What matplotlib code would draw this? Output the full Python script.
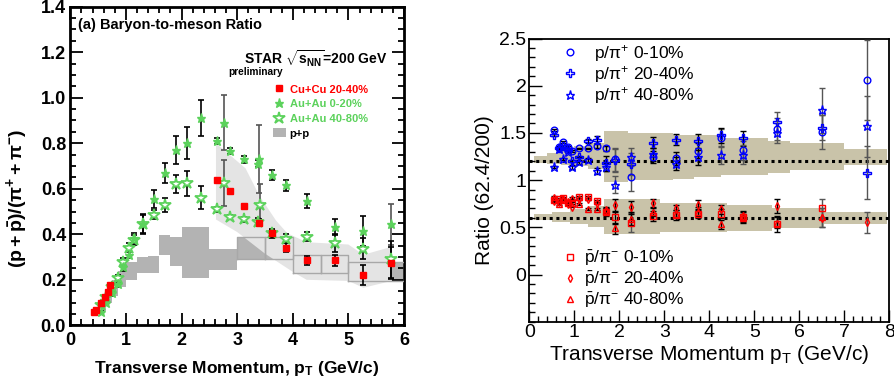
import numpy as np
import matplotlib
matplotlib.use("Agg")
import matplotlib.pyplot as plt
from matplotlib.lines import Line2D
from matplotlib.patches import Patch
from matplotlib.ticker import MultipleLocator

plt.rcParams['font.family'] = ['Liberation Sans', 'DejaVu Sans']
plt.rcParams['mathtext.fontset'] = 'custom'
plt.rcParams['mathtext.rm'] = 'Liberation Sans'
plt.rcParams['mathtext.it'] = 'Liberation Sans:italic'
plt.rcParams['mathtext.bf'] = 'Liberation Sans:bold'

# ---------------- left panel data ----------------
auau_x = [0.55, 0.65, 0.75, 0.85, 0.95, 1.05, 1.15, 1.3, 1.5, 1.7, 1.9, 2.1, 2.35,
          2.63, 2.76, 2.88, 3.13, 3.39, 3.37, 3.63, 3.88, 4.26, 4.76, 5.26, 5.76]
auau_c_y = [0.06, 0.10, 0.14, 0.18, 0.255, 0.31, 0.385, 0.445, 0.555, 0.67, 0.77, 0.80, 0.91,
            0.81, 0.89, 0.765, 0.73, 0.73, 0.71, 0.66, 0.615, 0.545, 0.43, 0.415, 0.445]
auau_c_e = [0.005, 0.008, 0.01, 0.012, 0.015, 0.015, 0.02, 0.045, 0.04, 0.045, 0.06, 0.07, 0.08,
            0.012, 0.12, 0.012, 0.015, 0.15, 0.015, 0.022, 0.025, 0.03, 0.035, 0.065, 0.09]
auau_p_x = [0.55, 0.65, 0.75, 0.85, 0.95, 1.05, 1.15, 1.3, 1.5, 1.7, 1.9, 2.1, 2.35,
            2.63, 2.76, 2.88, 3.13, 3.42, 3.38, 3.63, 3.88, 4.26, 4.76, 5.26, 5.76]
auau_p_y = [0.09, 0.125, 0.17, 0.21, 0.28, 0.34, 0.375, 0.445, 0.485, 0.53, 0.62, 0.625, 0.56,
            0.51, 0.625, 0.475, 0.465, 0.53, 0.455, 0.405, 0.38, 0.39, 0.363, 0.337, 0.29]
auau_p_e = [0.008, 0.01, 0.01, 0.012, 0.015, 0.02, 0.02, 0.04, 0.02, 0.03, 0.04, 0.055, 0.05,
            0.01, 0.1, 0.01, 0.01, 0.09, 0.015, 0.015, 0.02, 0.02, 0.04, 0.045, 0.08]
cucu_x = [0.42, 0.47, 0.55, 0.62, 0.67, 0.72, 2.63, 2.88, 3.13, 3.39, 3.63, 3.88, 4.26, 4.76, 5.26, 5.76]
cucu_y = [0.058, 0.068, 0.10, 0.125, 0.145, 0.175, 0.64, 0.59, 0.525, 0.45, 0.405, 0.34,
          0.285, 0.285, 0.22, 0.275]
cucu_e = [0, 0, 0, 0, 0, 0, 0, 0, 0, 0.015, 0.02, 0.02, 0.02, 0.025, 0.045, 0.07]

pp_x0 = [0.55, 0.65, 0.75, 0.85, 1.0, 1.2, 1.4, 1.6, 1.8, 2.0, 2.5, 3.0, 3.5, 4.0, 4.5, 5.0]
pp_x1 = [0.65, 0.75, 0.85, 1.0, 1.2, 1.4, 1.6, 1.8, 2.0, 2.5, 3.0, 3.5, 4.0, 4.5, 5.0, 6.0]
pp_lo = [0.065, 0.10, 0.13, 0.17, 0.20, 0.23, 0.23, 0.31, 0.26, 0.21, 0.245, 0.29, 0.29, 0.23, 0.23, 0.195]
pp_hi = [0.11, 0.16, 0.20, 0.24, 0.28, 0.30, 0.305, 0.395, 0.39, 0.43, 0.335, 0.39, 0.39, 0.31, 0.31, 0.28]

band_up_x = [2.62, 3.15, 3.4, 3.7, 3.9, 4.25, 5.0, 5.27, 5.78]
band_up_y = [0.80, 0.69, 0.57, 0.46, 0.405, 0.365, 0.355, 0.31, 0.345]
band_dn_x = [2.62, 3.0, 3.5, 4.0, 4.25, 5.0, 5.27, 5.78]
band_dn_y = [0.465, 0.41, 0.315, 0.235, 0.20, 0.195, 0.165, 0.195]

# ---------------- right panel data ----------------
pt_r = [0.55, 0.65, 0.75, 0.85, 0.95, 1.1, 1.3, 1.5, 1.7, 1.9, 2.25, 2.75, 3.25, 3.75, 4.25, 4.75, 5.5, 6.5, 7.5]
p_010 = [1.53, 1.35, 1.40, 1.35, 1.31, 1.335, 1.335, 1.36, 1.335, 1.22, 1.03, 1.245, 1.23, 1.31, 1.45, 1.315, 1.54, 1.51, 2.06]
p_010_e = [0.01, 0.01, 0.01, 0.01, 0.01, 0.01, 0.01, 0.02, 0.03, 0.12, 0.15, 0.06, 0.07, 0.08, 0.09, 0.1, 0.12, 0.18, 0.42]
p_2040 = [1.48, 1.34, 1.36, 1.33, 1.20, 1.25, 1.415, 1.43, 1.18, 1.21, 1.17, 1.395, 1.43, 1.415, 1.475, 1.445, 1.62, 1.555, 1.08]
p_2040_e = [0.01, 0.01, 0.01, 0.01, 0.01, 0.01, 0.02, 0.04, 0.08, 0.12, 0.12, 0.06, 0.06, 0.07, 0.08, 0.08, 0.1, 0.13, 0.28]
p_4080 = [1.135, 1.33, 1.22, 1.30, 1.14, 1.195, 1.21, 1.10, 1.14, 0.95, 1.245, 1.275, 1.175, 1.24, 1.265, 1.27, 1.50, 1.74, 1.57]
p_4080_e = [0.01, 0.01, 0.01, 0.01, 0.02, 0.02, 0.02, 0.03, 0.04, 0.09, 0.1, 0.07, 0.07, 0.08, 0.09, 0.1, 0.11, 0.24, 0.32]

pbar_010 = [0.79, 0.80, 0.815, 0.76, 0.76, 0.82, 0.82, 0.78, 0.665, 0.605, 0.55, 0.62, 0.63, 0.645, 0.645, 0.61, 0.535, 0.70]
pbar_010_e = [0.01, 0.01, 0.01, 0.01, 0.01, 0.01, 0.01, 0.01, 0.04, 0.07, 0.1, 0.05, 0.05, 0.05, 0.05, 0.05, 0.08, 0.1]
pbar_2040 = [0.78, 0.77, 0.80, 0.75, 0.72, 0.80, 0.80, 0.76, 0.68, 0.735, 0.71, 0.755, 0.70, 0.735, 0.69, 0.625, 0.725, 0.60, 0.555]
pbar_2040_e = [0.01, 0.01, 0.01, 0.01, 0.01, 0.01, 0.01, 0.01, 0.03, 0.07, 0.07, 0.04, 0.04, 0.05, 0.05, 0.05, 0.07, 0.1, 0.11]
pbar_4080 = [0.82, 0.745, 0.79, 0.78, 0.815, 0.745, 0.69, 0.69, 0.675, 0.49, 0.59, 0.665, 0.645, 0.665, 0.53, 0.595, 0.55, 0.605]
pbar_4080_e = [0.01, 0.01, 0.01, 0.01, 0.01, 0.01, 0.01, 0.01, 0.03, 0.06, 0.07, 0.04, 0.04, 0.05, 0.05, 0.05, 0.06, 0.1]

ub_edges = [0.1, 0.4, 0.7, 1.0, 1.3, 1.65, 2.2, 3.2, 3.65, 4.25, 5.3, 5.8, 6.3, 7.0, 7.95]
ub_lo = [1.18, 1.17, 1.16, 1.15, 1.12, 0.98, 1.0, 1.01, 1.03, 1.05, 1.075, 1.105, 1.105, 1.16]
ub_hi = [1.26, 1.29, 1.33, 1.36, 1.39, 1.52, 1.50, 1.48, 1.48, 1.45, 1.41, 1.39, 1.39, 1.33]
lb_edges = [0.1, 0.5, 0.9, 1.3, 1.65, 2.9, 4.4, 5.4, 6.55, 7.95]
lb_lo = [0.575, 0.56, 0.54, 0.50, 0.43, 0.45, 0.46, 0.49, 0.53]
lb_hi = [0.645, 0.665, 0.69, 0.73, 0.80, 0.755, 0.735, 0.70, 0.66]
ref_levels = [1.2, 0.6]

RED = '#ff0000'
GREEN = '#5cd25c'
BLUE = '#0000ff'
PPGRAY = '#b3b3b3'
BANDGRAY = '#e4e4e4'
TAN = '#c9c3a9'

fig = plt.figure(figsize=(8.94, 3.87), dpi=100)
axL = fig.add_axes([0.0786, 0.1594, 0.3733, 0.8233])
axR = fig.add_axes([0.5921, 0.1687, 0.4027, 0.7318])

# ---------------- left panel ----------------
ax = axL
for x0, x1, lo, hi in zip(pp_x0, pp_x1, pp_lo, pp_hi):
    ax.fill_between([x0, x1], [lo, lo], [hi, hi], color=PPGRAY, lw=0, zorder=1)
ax.fill(band_up_x + band_dn_x[::-1], band_up_y + band_dn_y[::-1], color=BANDGRAY, lw=0, zorder=2)
for x0, x1, lo, hi in zip(pp_x0, pp_x1, pp_lo, pp_hi):
    if x0 >= 3.0:
        ax.plot([x0, x1, x1, x0, x0], [lo, lo, hi, hi, lo], color='#a8a8a8', lw=1.0, zorder=3)


def ebars(ax, x, y, e, lw=1.2, cap=2.5):
    x = np.asarray(x); y = np.asarray(y); e = np.asarray(e)
    big = e >= 0.09
    ax.errorbar(x[~big], y[~big], yerr=e[~big], fmt='none', ecolor='black',
                elinewidth=lw, capsize=cap, capthick=lw, zorder=4)
    if big.any():
        ax.errorbar(x[big], y[big], yerr=e[big], fmt='none', ecolor='#555555',
                    elinewidth=lw, capsize=cap, capthick=lw, zorder=4)


ebars(ax, auau_x, auau_c_y, auau_c_e)
ebars(ax, auau_p_x, auau_p_y, auau_p_e)
ebars(ax, cucu_x, cucu_y, cucu_e)
ax.plot(auau_p_x, auau_p_y, ls='none', marker='*', ms=9, mfc='white', mec=GREEN, mew=1.3, zorder=5)
ax.plot(auau_x, auau_c_y, ls='none', marker='*', ms=6.5, mfc=GREEN, mec=GREEN, zorder=6)
ax.plot(cucu_x, cucu_y, ls='none', marker='s', ms=5, mfc=RED, mec=RED, zorder=7)

ax.set_xlim(0, 6)
ax.set_ylim(0, 1.4)
ax.xaxis.set_major_locator(MultipleLocator(1))
ax.xaxis.set_minor_locator(MultipleLocator(0.2))
ax.yaxis.set_major_locator(MultipleLocator(0.2))
ax.yaxis.set_minor_locator(MultipleLocator(0.05))
ax.yaxis.set_major_formatter(matplotlib.ticker.FormatStrFormatter('%.1f'))
ax.tick_params(which='both', direction='in', top=True, right=True, width=1.3)
ax.tick_params(which='major', length=9)
ax.tick_params(which='minor', length=4.5)
ax.tick_params(axis='x', pad=5, labelsize=13)
ax.tick_params(axis='y', pad=3, labelsize=13)
for lab in ax.get_xticklabels() + ax.get_yticklabels():
    lab.set_fontweight('bold')
for s in ax.spines.values():
    s.set_linewidth(2)

ax.text(0.024, 0.9426, '(a) Baryon-to-meson Ratio', transform=ax.transAxes,
        fontsize=10.5, fontweight='bold', ha='left', va='center')
ax.text(0.952, 0.838, r'STAR $\sqrt{\mathbf{s}_{\mathbf{NN}}}$=200 GeV', transform=ax.transAxes,
        fontsize=10, fontweight='bold', ha='right', va='center')
ax.text(0.637, 0.794, 'preliminary', transform=ax.transAxes,
        fontsize=7.3, fontweight='bold', ha='right', va='center')

hL = [Line2D([], [], ls='none', marker='s', ms=5, mfc=RED, mec=RED),
      Line2D([], [], ls='none', marker='*', ms=6.5, mfc=GREEN, mec=GREEN),
      Line2D([], [], ls='none', marker='*', ms=9, mfc='white', mec=GREEN, mew=1.3),
      Patch(facecolor=PPGRAY, edgecolor='none')]
legL = ax.legend(hL, ['Cu+Cu 20-40%', 'Au+Au 0-20%', 'Au+Au 40-80%', 'p+p'],
                 loc='upper left', bbox_to_anchor=(0.606, 0.757), frameon=False,
                 prop={'size': 8, 'weight': 'bold'}, handlelength=1.2, handleheight=0.9,
                 handletextpad=0.35, labelspacing=0.38, borderpad=0, borderaxespad=0)
for t, c in zip(legL.get_texts(), [RED, GREEN, GREEN, 'black']):
    t.set_color(c)

fig.text(236.7 / 894, 1 - 368 / 387, r'Transverse Momentum, p$_{\mathbf{T}}$ (GeV/c)',
         fontsize=12.5, fontweight='bold', ha='center', va='center')
fig.text(17 / 894, 1 - 198 / 387, r'$\mathbf{(p+\bar{p})/(\pi^{+}+\pi^{-})}$',
         fontsize=14, rotation=90, ha='center', va='center')

# ---------------- right panel ----------------
ax = axR
ax.stairs(ub_hi, ub_edges, baseline=ub_lo, fill=True, color=TAN, lw=0, zorder=1)
ax.stairs(lb_hi, lb_edges, baseline=lb_lo, fill=True, color=TAN, lw=0, zorder=1)
for lvl in ref_levels:
    ax.axhline(lvl, color='black', ls=(0, (1, 1.2)), lw=2.2, zorder=2)

ebars(ax, pt_r, p_010, p_010_e, lw=1.0, cap=2)
ebars(ax, pt_r, p_2040, p_2040_e, lw=1.0, cap=2)
ebars(ax, pt_r, p_4080, p_4080_e, lw=1.0, cap=2)
ebars(ax, pt_r[:len(pbar_010)], pbar_010, pbar_010_e, lw=1.0, cap=2)
ebars(ax, pt_r, pbar_2040, pbar_2040_e, lw=1.0, cap=2)
ebars(ax, pt_r[:len(pbar_4080)], pbar_4080, pbar_4080_e, lw=1.0, cap=2)

MS = dict(o=4.8, P=5.5, star=6.5, s=4.6, d=4.2, tri=5.0)
mk = dict(ls='none', mfc='none', mew=1.0, zorder=5)
ax.plot(pt_r, p_010, marker='o', ms=MS['o'], mec=BLUE, **mk)
ax.plot(pt_r, p_2040, marker='P', ms=MS['P'], mec=BLUE, **mk)
ax.plot(pt_r, p_4080, marker='*', ms=MS['star'], mec=BLUE, **mk)
ax.plot(pt_r[:len(pbar_010)], pbar_010, marker='s', ms=MS['s'], mec=RED, **mk)
ax.plot(pt_r, pbar_2040, marker='d', ms=MS['d'], mec=RED, **mk)
ax.plot(pt_r[:len(pbar_4080)], pbar_4080, marker='^', ms=MS['tri'], mec=RED, **mk)

ax.set_xlim(0, 8)
ax.set_ylim(-0.5, 2.5)
ax.xaxis.set_major_locator(MultipleLocator(1))
ax.xaxis.set_minor_locator(MultipleLocator(0.2))
ax.yaxis.set_minor_locator(MultipleLocator(0.1))
ax.set_yticks([0, 0.5, 1, 1.5, 2, 2.5])
ax.yaxis.set_major_formatter(matplotlib.ticker.FuncFormatter(
    lambda v, p: ('%g' % v) if abs(v) > 1e-9 else '0'))
ax.tick_params(which='both', direction='in', top=False, right=False, width=1.0)
ax.tick_params(which='major', length=9)
ax.tick_params(which='minor', length=4.5)
ax.tick_params(axis='x', pad=2, labelsize=14)
ax.tick_params(axis='y', pad=2, labelsize=14)
for s in ax.spines.values():
    s.set_linewidth(1.3)

mk_l = dict(ls='none', mfc='none', mew=1.0)
hU = [Line2D([], [], marker='o', ms=MS['o'], mec=BLUE, **mk_l),
      Line2D([], [], marker='P', ms=MS['P'], mec=BLUE, **mk_l),
      Line2D([], [], marker='*', ms=MS['star'], mec=BLUE, **mk_l)]
legU = ax.legend(hU, [r'p/$\mathrm{\pi^{+}}$ 0-10%', r'p/$\mathrm{\pi^{+}}$ 20-40%', r'p/$\mathrm{\pi^{+}}$ 40-80%'],
                 loc='upper left', bbox_to_anchor=(0.088, 0.985), frameon=False, fontsize=12.5,
                 handlelength=1.0, handletextpad=0.9, labelspacing=0.02, borderpad=0, borderaxespad=0)
ax.add_artist(legU)
hD = [Line2D([], [], marker='s', ms=MS['s'], mec=RED, **mk_l),
      Line2D([], [], marker='d', ms=MS['d'], mec=RED, **mk_l),
      Line2D([], [], marker='^', ms=MS['tri'], mec=RED, **mk_l)]
legD = ax.legend(hD, [r'$\mathrm{\bar{p}/\pi^{-}}$ 0-10%', r'$\mathrm{\bar{p}/\pi^{-}}$ 20-40%', r'$\mathrm{\bar{p}/\pi^{-}}$ 40-80%'],
                 loc='upper left', bbox_to_anchor=(0.09, 0.258), frameon=False, fontsize=12.5,
                 handlelength=1.0, handletextpad=0.3, labelspacing=0.1, borderpad=0, borderaxespad=0)

fig.text(709 / 894, 1 - 355 / 387, r'Transverse Momentum p$_{\mathrm{T}}$ (GeV/c)',
         fontsize=15, ha='center', va='center')
fig.text(485 / 894, 1 - 190 / 387, 'Ratio (62.4/200)', fontsize=15, rotation=90,
         ha='center', va='center')

fig.savefig('out.png', dpi=100)
